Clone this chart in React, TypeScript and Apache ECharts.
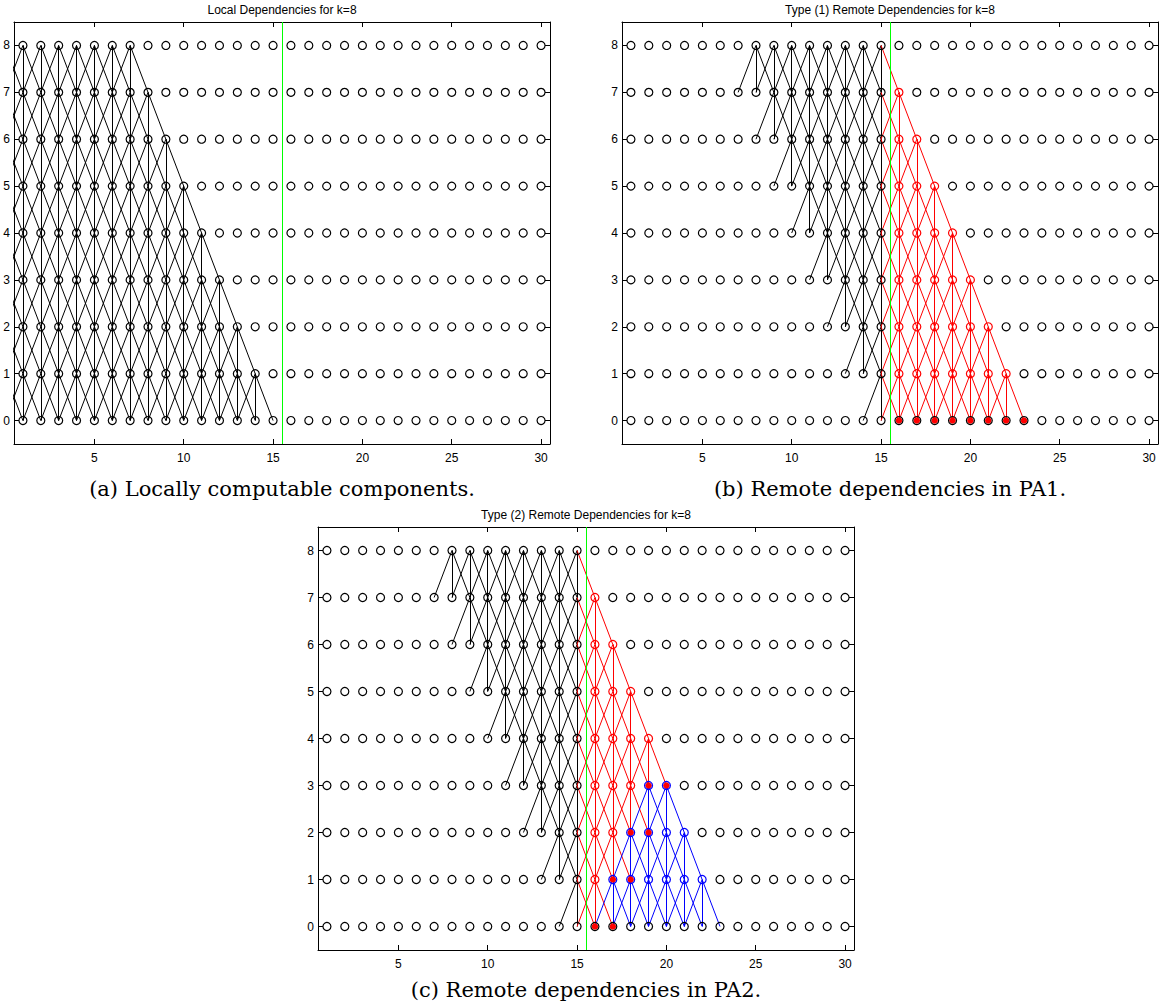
import React, { useEffect, useRef } from "react";
import * as echarts from "echarts";

// ---------- data ----------
const xNodes = [1, 2, 3, 4, 5, 6, 7, 8, 9, 10, 11, 12, 13, 14, 15, 16, 17, 18, 19, 20, 21, 22, 23, 24, 25, 26, 27, 28, 29, 30];
const yLevels = [0, 1, 2, 3, 4, 5, 6, 7, 8];
const xTicks = [5, 10, 15, 20, 25, 30];
const yTicks = [0, 1, 2, 3, 4, 5, 6, 7, 8];
const boundaryX = 15.5;
const firstRemoteX = 16;

// rows given as [level, firstX, lastX]
// (a) locally computable nodes (each depends on the three nodes below it)
const localSources = [[8, 0, 7], [7, 0, 8], [6, 0, 9], [5, 0, 10], [4, 0, 11], [3, 0, 12], [2, 0, 13], [1, 0, 14]];
// (b),(c) local nodes that are not locally computable
const blackSources = [[8, 8, 15], [7, 9, 15], [6, 10, 15], [5, 11, 15], [4, 12, 15], [3, 13, 15], [2, 14, 15], [1, 15, 15]];
// (b) remote nodes needed (type 1)
const redSourcesB = [[7, 16, 16], [6, 16, 17], [5, 16, 18], [4, 16, 19], [3, 16, 20], [2, 16, 21], [1, 16, 22]];
const redDotsB = [[0, 16, 23]];
// (c) remote nodes needed (type 2)
const redSourcesC = [[7, 16, 16], [6, 16, 17], [5, 16, 18], [4, 16, 19], [3, 16, 18], [2, 16, 17], [1, 16, 16]];
const blueSourcesC = [[3, 19, 20], [2, 18, 21], [1, 17, 22]];
const redDotsC = [[3, 19, 20], [2, 18, 19], [1, 17, 18], [0, 16, 17]];

const titles = ["Local Dependencies for k=8", "Type (1) Remote Dependencies for k=8", "Type (2) Remote Dependencies for k=8"];
const captions = ["(a) Locally computable components.", "(b) Remote dependencies in PA1.", "(c) Remote dependencies in PA2."];

// ---------- helpers ----------
function expandRows(rows: number[][]) {
  const pts: number[][] = [];
  rows.forEach(([y, a, b]) => {
    for (let x = a; x <= b; x++) pts.push([x, y]);
  });
  return pts;
}
function edgesFrom(sources: number[][]) {
  const edges: number[][][] = [];
  sources.forEach(([x, y]) => {
    [-1, 0, 1].forEach((dx) => edges.push([[x, y], [x + dx, y - 1]]));
  });
  return edges;
}
const key = (p: number[]) => p[0] + "," + p[1];

const grids = [
  { left: 14, top: 22, width: 536, height: 422 },
  { left: 622, top: 22, width: 536, height: 422 },
  { left: 318, top: 527, width: 536, height: 423 },
];
const titlePos = [[282, 10], [890, 10], [586, 515]];
const captionPos = [[282, 489], [890, 489], [586, 990]];

const RED = "#ff0000";
const BLUE = "#0000ff";
const GREEN = "#00ff00";
const LABEL_FONT = "'Liberation Sans', Arial, Helvetica, sans-serif";

function linesSeries(p: number, edges: number[][][], color: string, z: number) {
  return {
    type: "lines",
    coordinateSystem: "cartesian2d",
    xAxisIndex: 2 * p,
    yAxisIndex: 2 * p,
    polyline: false,
    silent: true,
    clip: true,
    z,
    lineStyle: { color, width: 1, opacity: 1, curveness: 0 },
    data: edges.map((e) => ({ coords: e })),
  };
}
function nodeSeries(p: number, pts: number[][], border: string, fill: string, size: number, z: number) {
  return {
    type: "scatter",
    xAxisIndex: 2 * p,
    yAxisIndex: 2 * p,
    symbol: "circle",
    symbolSize: size,
    silent: true,
    z,
    itemStyle: { color: fill, borderColor: border, borderWidth: fill === "transparent" ? 1.2 : 0, opacity: 1 },
    data: pts,
  };
}

function buildOption() {
  const allNodes: number[][] = [];
  yLevels.forEach((y) => xNodes.forEach((x) => allNodes.push([x, y])));

  const xAxes: any[] = [];
  const yAxes: any[] = [];
  grids.forEach((_, g) => {
    ["bottom", "top"].forEach((pos) =>
      xAxes.push({
        type: "value",
        gridIndex: g,
        position: pos,
        min: 0.5,
        max: 30.5,
        axisLine: { show: true, onZero: false, lineStyle: { color: "#000", width: 1 } },
        axisTick: { show: true, inside: true, length: 5, customValues: xTicks, lineStyle: { color: "#000", width: 1 } },
        axisLabel: {
          show: pos === "bottom",
          customValues: xTicks,
          margin: 8,
          color: "#000",
          fontSize: 12,
          fontFamily: LABEL_FONT,
        },
        splitLine: { show: false },
      })
    );
    ["left", "right"].forEach((pos) =>
      yAxes.push({
        type: "value",
        gridIndex: g,
        position: pos,
        min: -0.5,
        max: 8.5,
        axisLine: { show: true, onZero: false, lineStyle: { color: "#000", width: 1 } },
        axisTick: { show: true, inside: true, length: 5, customValues: yTicks, lineStyle: { color: "#000", width: 1 } },
        axisLabel: {
          show: pos === "left",
          customValues: yTicks,
          margin: 4,
          color: "#000",
          fontSize: 12,
          fontFamily: LABEL_FONT,
        },
        splitLine: { show: false },
      })
    );
  });

  const series: any[] = [];
  const green = (p: number) => linesSeries(p, [[[boundaryX, -0.5], [boundaryX, 8.5]]], GREEN, 4);

  // panel (a)
  series.push(linesSeries(0, edgesFrom(expandRows(localSources)), "#000", 1));
  series.push(green(0));
  series.push(nodeSeries(0, allNodes, "#000", "transparent", 8, 6));

  // black edges shared by (b) and (c)
  const blackEdges = edgesFrom(expandRows(blackSources));
  const blackLocal = blackEdges.filter((e) => e[1][0] < firstRemoteX);
  const blackToRemote = blackEdges.filter((e) => e[1][0] >= firstRemoteX);

  // panel (b)
  const redB = expandRows(redSourcesB);
  const redBKeys = new Set(redB.map(key));
  const redEdgesB = blackToRemote.concat(edgesFrom(redB));
  series.push(linesSeries(1, blackLocal, "#000", 1));
  series.push(linesSeries(1, redEdgesB, RED, 2));
  series.push(green(1));
  series.push(nodeSeries(1, expandRows(redDotsB), RED, RED, 6.5, 5));
  series.push(nodeSeries(1, allNodes.filter((q) => !redBKeys.has(key(q))), "#000", "transparent", 8, 6));
  series.push(nodeSeries(1, redB, RED, "transparent", 8, 6));

  // panel (c)
  const redC = expandRows(redSourcesC);
  const blueC = expandRows(blueSourcesC);
  const redCKeys = new Set(redC.map(key));
  const blueCKeys = new Set(blueC.map(key));
  const redEdgesC = blackToRemote.concat(edgesFrom(redC));
  series.push(linesSeries(2, blackLocal, "#000", 1));
  series.push(linesSeries(2, redEdgesC, RED, 2));
  series.push(linesSeries(2, edgesFrom(blueC), BLUE, 3));
  series.push(green(2));
  series.push(nodeSeries(2, expandRows(redDotsC), RED, RED, 6.5, 5));
  series.push(
    nodeSeries(2, allNodes.filter((q) => !redCKeys.has(key(q)) && !blueCKeys.has(key(q))), "#000", "transparent", 8, 6)
  );
  series.push(nodeSeries(2, redC, RED, "transparent", 8, 6));
  series.push(nodeSeries(2, blueC, BLUE, "transparent", 8, 6));

  const graphic: any[] = [];
  titles.forEach((t, i) =>
    graphic.push({
      type: "text",
      x: titlePos[i][0],
      y: titlePos[i][1],
      silent: true,
      style: { text: t, fill: "#000", fontSize: 12, fontFamily: LABEL_FONT, align: "center", verticalAlign: "middle" },
    })
  );
  captions.forEach((t, i) =>
    graphic.push({
      type: "text",
      x: captionPos[i][0],
      y: captionPos[i][1],
      silent: true,
      style: {
        text: t,
        fill: "#000",
        fontSize: 21,
        fontFamily: "'DejaVu Serif', 'Liberation Serif', serif",
        align: "center",
        verticalAlign: "middle",
      },
    })
  );

  return {
    animation: false,
    backgroundColor: "#fff",
    grid: grids.map((g) => ({ ...g, containLabel: false, outerBoundsMode: "none" })),
    xAxis: xAxes,
    yAxis: yAxes,
    series,
    graphic,
  };
}

export default function App() {
  const ref = useRef<HTMLDivElement>(null);
  useEffect(() => {
    if (!ref.current) return;
    const chart = echarts.init(ref.current, undefined, { renderer: "svg" });
    chart.setOption(buildOption() as any);
    return () => chart.dispose();
  }, []);
  return (
    <div
      ref={ref}
      style={{ position: "absolute", left: 0, top: 0, width: 1159, height: 1007, background: "#fff" }}
    />
  );
}
